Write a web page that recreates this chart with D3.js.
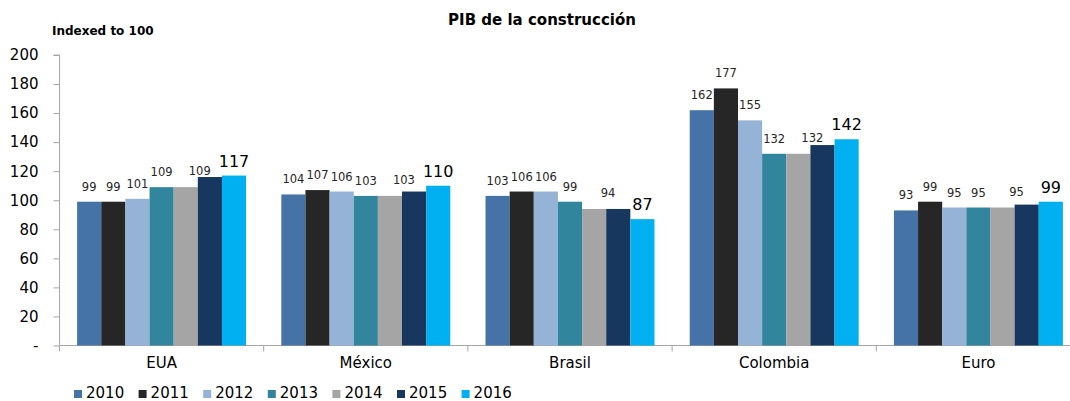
<!DOCTYPE html>
<html>
<head>
<meta charset="utf-8">
<script src="https://cdn.jsdelivr.net/npm/d3@7"></script>
<style>
  html, body { margin: 0; padding: 0; background: #fff; }
  svg { display: block; font-family: Verdana, "DejaVu Sans", sans-serif; }
</style>
</head>
<body>
<svg id="chart" width="1070" height="401"></svg>
<script>
// Construction GDP, indexed to 100
const categories = ["EUA", "México", "Brasil", "Colombia", "Euro"];
const years = ["2010", "2011", "2012", "2013", "2014", "2015", "2016"];
const v2010 = [99, 104, 103, 162, 93];
const v2011 = [99, 107, 106, 177, 99];
const v2012 = [101, 106, 106, 155, 95];
const v2013 = [109, 103, 99, 132, 95];
const v2014 = [109, 103, 94, 132, 95];
const v2015 = [116, 106, 94, 138, 97];
const v2016 = [117, 110, 87, 142, 99];
// years that carry a value label (2015 is unlabelled)
const labelledYears = ["2010", "2011", "2012", "2013", "2014", "2016"];
const yTicks = [0, 20, 40, 60, 80, 100, 120, 140, 160, 180, 200];
const colors = ["#4572A7", "#262626", "#95B3D7", "#31859C", "#A5A5A5", "#17375E", "#00B0F0"];

const seriesValues = [v2010, v2011, v2012, v2013, v2014, v2015, v2016];
const svg = d3.select("#chart");

const x0 = d3.scaleBand().domain(categories).range([59.5, 1080.5]).padding(0);
const x1 = d3.scaleBand().domain(years).range([0, x0.bandwidth()])
  .paddingInner(0).paddingOuter(0.73);
const y = d3.scaleLinear().domain([0, 200]).range([345.5, 55]);
const color = d3.scaleOrdinal().domain(years).range(colors);

// title
svg.append("text")
  .attr("x", 542).attr("y", 25)
  .attr("text-anchor", "middle")
  .attr("font-weight", "bold").attr("font-size", 15)
  .text("PIB de la construcción");

svg.append("text")
  .attr("x", 52).attr("y", 35)
  .attr("font-weight", "bold").attr("font-size", 12)
  .text("Indexed to 100");

// y axis
const yAxis = d3.axisLeft(y).tickValues(yTicks).tickSize(6).tickPadding(14)
  .tickFormat(d => d === 0 ? "-" : d);
const gy = svg.append("g").attr("transform", "translate(59.5,0)").call(yAxis);
gy.selectAll("path, line").attr("stroke", "#a6a6a6");
gy.select(".domain").attr("d", `M-6,${y(200)}H0V${y(0)}`);
gy.selectAll("text").attr("font-size", 15).attr("fill", "#000")
  .attr("font-family", "Verdana, 'DejaVu Sans', sans-serif")
  .attr("x", -21);

// x axis
const xAxis = d3.axisBottom(x0).tickSize(0).tickPadding(12);
const gx = svg.append("g").attr("transform", `translate(0,${y(0)})`).call(xAxis);
gx.select(".domain").attr("stroke", "#a6a6a6").attr("d", `M59.5,0H1080.5`);
gx.selectAll("text").attr("font-size", 15).attr("fill", "#000")
  .attr("font-family", "Verdana, 'DejaVu Sans', sans-serif");
// category separators
const seps = categories.map(c => x0(c)).concat([x0.range()[1]]);
gx.selectAll(".sep").data(seps).enter().append("line")
  .attr("x1", d => d).attr("x2", d => d)
  .attr("y1", 0).attr("y2", 6)
  .attr("stroke", "#a6a6a6");

// bars
const rows = categories.map((c, i) => ({
  cat: c,
  vals: years.map((yr, j) => ({ year: yr, value: seriesValues[j][i] }))
}));

const groups = svg.append("g").selectAll("g").data(rows).enter().append("g")
  .attr("transform", d => `translate(${x0(d.cat)},0)`);

groups.selectAll("rect").data(d => d.vals).enter().append("rect")
  .attr("x", d => x1(d.year))
  .attr("width", x1.bandwidth())
  .attr("y", d => y(d.value))
  .attr("height", d => y(0) - y(d.value))
  .attr("fill", d => color(d.year));

// value labels
groups.selectAll("text.val")
  .data(d => d.vals.filter(v => labelledYears.includes(v.year)))
  .enter().append("text")
  .attr("class", "val")
  .attr("x", d => x1(d.year) + x1.bandwidth() / 2 + (d.year === "2014" ? 14 : 0))
  .attr("y", d => y(d.value) - (d.year === "2014" ? 12 : d.year === "2016" ? 9 : 11))
  .attr("text-anchor", "middle")
  .attr("font-size", d => d.year === "2016" ? 16 : 11.5)
  .attr("fill", d => d.year === "2016" ? "#000" : "#262626")
  .text(d => d.value);

// legend
const legend = svg.append("g").selectAll("g").data(years).enter().append("g")
  .attr("transform", (d, i) => `translate(${74 + i * 64.6},0)`);
legend.append("rect")
  .attr("x", 0).attr("y", 390).attr("width", 8).attr("height", 8)
  .attr("fill", d => color(d));
legend.append("text")
  .attr("x", 12).attr("y", 398)
  .attr("font-size", 15)
  .text(d => d);
</script>
</body>
</html>
